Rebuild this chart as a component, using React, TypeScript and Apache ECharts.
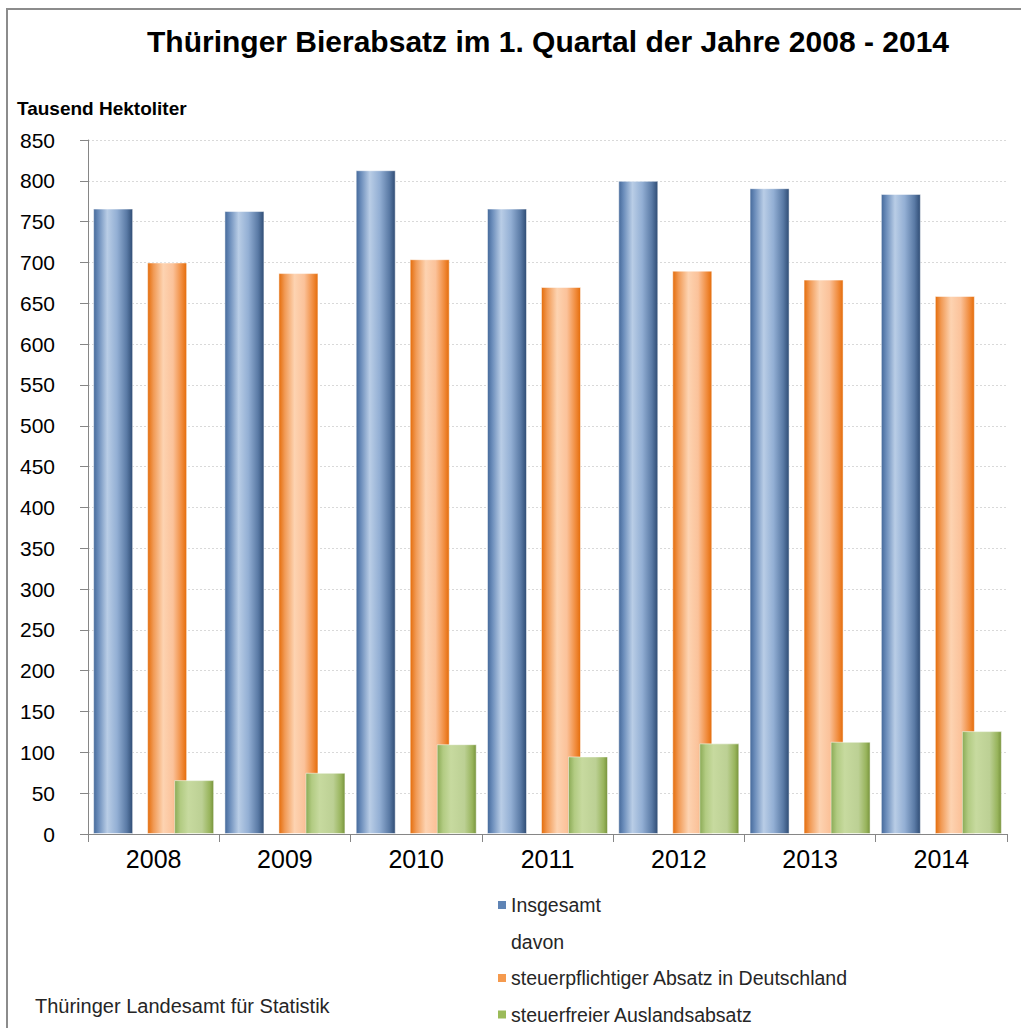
import React, { useEffect, useRef } from "react";
import * as echarts from "echarts";

const years = ["2008", "2009", "2010", "2011", "2012", "2013", "2014"];
const insgesamt = [766, 763, 813, 766, 800, 791, 784];
const steuerpflichtig = [700, 687, 704, 670, 690, 679, 659];
const steuerfrei = [66, 75, 110, 95, 111, 113, 126];
const davon = ["-", "-", "-", "-", "-", "-", "-"];

const seriesNames = [
  "Insgesamt",
  "davon",
  "steuerpflichtiger Absatz in Deutschland",
  "steuerfreier Auslandsabsatz",
];

const FONT = "'Liberation Sans', Arial, Helvetica, sans-serif";

function grad(stops: [number, string][]) {
  return new echarts.graphic.LinearGradient(
    0, 0, 1, 0,
    stops.map(([offset, color]) => ({ offset, color }))
  );
}

export default function App() {
  const ref = useRef<HTMLDivElement>(null);
  useEffect(() => {
    if (!ref.current) return;
    const chart = echarts.init(ref.current, undefined, { renderer: "svg" });
    const blue = grad([
      [0, "#45699a"], [0.12, "#6a8cba"], [0.35, "#b9cde6"], [0.6, "#93afd4"], [0.85, "#5a7aa5"], [1, "#2f4c74"],
    ]);
    const orange = grad([
      [0, "#e46c0a"], [0.15, "#f19a55"], [0.4, "#fdd3b1"], [0.65, "#fbc29a"], [0.88, "#f08a3a"], [1, "#e46c0a"],
    ]);
    const green = grad([
      [0, "#8aaa55"], [0.15, "#b2cb82"], [0.35, "#c7da9f"], [0.7, "#bcd094"], [0.9, "#98b45c"], [1, "#77933c"],
    ]);
    const barBase = {
      type: "bar" as const,
      barWidth: 40,
      barGap: "-32.5%",
    };
    chart.setOption({
      animation: false,
      backgroundColor: "#ffffff",
      textStyle: { fontFamily: FONT },
      grid: { left: 88, right: 14, top: 140, bottom: 194, containLabel: false },
      xAxis: {
        type: "category",
        data: years,
        axisLine: { show: true, lineStyle: { color: "#868686", width: 1 } },
        axisTick: { show: true, length: 8, lineStyle: { color: "#868686" } },
        axisLabel: { fontSize: 25, color: "#000", margin: 12, fontFamily: FONT },
        splitLine: { show: false },
      },
      yAxis: {
        type: "value",
        min: 0,
        max: 850,
        interval: 50,
        axisLine: { show: true, lineStyle: { color: "#868686", width: 1 } },
        axisTick: { show: true, length: 8, lineStyle: { color: "#868686" } },
        axisLabel: { fontSize: 21, color: "#000", margin: 33, fontFamily: FONT },
        splitLine: { show: true, lineStyle: { color: "#d9d9d9", type: [2, 2], width: 1 } },
      },
      legend: {
        orient: "vertical",
        left: 498,
        top: 895,
        height: 140,
        padding: 0,
        itemWidth: 8,
        itemHeight: 8,
        itemGap: 16.5,
        icon: "rect",
        selectedMode: false,
        textStyle: { fontSize: 19.5, color: "#262626", lineHeight: 20, fontFamily: FONT },
        data: [
          { name: seriesNames[0], itemStyle: { color: "#5f84b5", borderWidth: 0 } },
          { name: seriesNames[1], itemStyle: { color: "rgba(0,0,0,0)", borderWidth: 0 } },
          { name: seriesNames[2], itemStyle: { color: "#f59a4e", borderWidth: 0 } },
          { name: seriesNames[3], itemStyle: { color: "#9bbb59", borderWidth: 0 } },
        ],
      },
      series: [
        { ...barBase, name: seriesNames[0], data: insgesamt, itemStyle: { color: blue, borderColor: "rgba(255,255,255,0.5)", borderWidth: 1 } },
        { ...barBase, name: seriesNames[1], data: davon, itemStyle: { color: "rgba(0,0,0,0)" } },
        { ...barBase, name: seriesNames[2], data: steuerpflichtig, itemStyle: { color: orange, borderColor: "rgba(255,255,255,0.5)", borderWidth: 1 } },
        { ...barBase, name: seriesNames[3], data: steuerfrei, itemStyle: { color: green, borderColor: "rgba(255,255,255,0.5)", borderWidth: 1 } },
      ],
      graphic: [
        {
          type: "rect",
          silent: true,
          shape: { x: 7, y: 9, width: 1200, height: 1200 },
          style: { fill: "none", stroke: "#8c8c8c", lineWidth: 2 },
        },
        {
          type: "text",
          x: 147,
          y: 41,
          style: {
            text: "Thüringer Bierabsatz im 1. Quartal der Jahre 2008 - 2014",
            font: `bold 30px ${FONT}`,
            fill: "#000",
            textAlign: "left",
            textVerticalAlign: "middle",
          },
        },
        {
          type: "text",
          x: 17,
          y: 108,
          style: {
            text: "Tausend Hektoliter",
            font: `bold 19px ${FONT}`,
            fill: "#000",
            textAlign: "left",
            textVerticalAlign: "middle",
          },
        },
        {
          type: "text",
          x: 35,
          y: 1006,
          style: {
            text: "Thüringer Landesamt für Statistik",
            font: `20px ${FONT}`,
            fill: "#262626",
            textAlign: "left",
            textVerticalAlign: "middle",
          },
        },
      ],
    });
    return () => chart.dispose();
  }, []);
  return (
    <div
      ref={ref}
      style={{ position: "fixed", left: 0, top: 0, width: 1021, height: 1028, background: "#fff" }}
    />
  );
}
